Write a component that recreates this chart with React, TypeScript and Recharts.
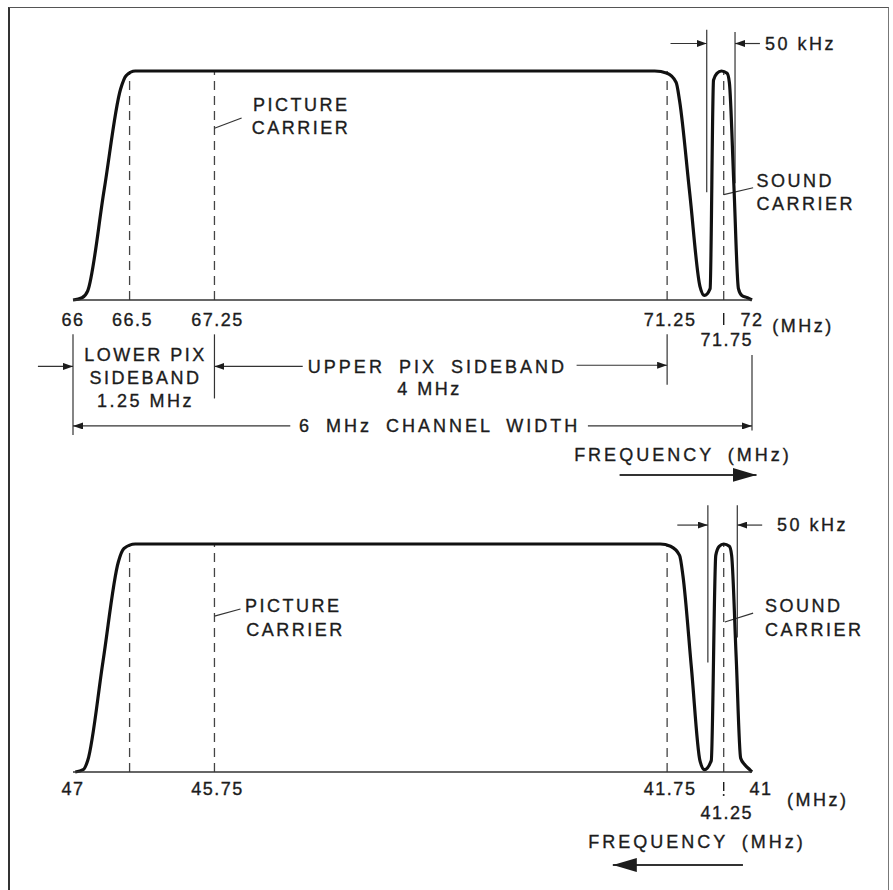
import { LineChart, Line, XAxis, YAxis, ReferenceLine, ReferenceDot } from 'recharts'

// channel 4 RF response (MHz, relative amplitude)
const rfFreq = [66.0, 66.08, 66.13, 66.275, 66.42, 66.47, 66.55, 71.14, 71.25, 71.33, 71.36, 71.45, 71.54, 71.58, 71.63, 71.66, 71.69, 71.73, 71.78, 71.8, 71.84, 71.88, 71.91, 71.96, 72.0]
const rfResp = [0, 0.01, 0.04, 0.48, 0.92, 0.98, 1, 1, 0.99, 0.95, 0.87, 0.465, 0.06, 0.02, 0.05, 0.96, 0.99, 1, 0.99, 0.95, 0.5, 0.05, 0.02, 0.01, 0]
const rfTicks = [66, 66.5, 67.25, 71.25, 71.75, 72]
const rfTickLabels = ['66', '66.5', '67.25', '71.25', '71.75', '72']
const rfMarkers = [66.5, 67.25, 71.25, 71.75]

// same channel after conversion to IF (spectrum inverted)
const ifFreq = [46.98, 46.91, 46.87, 46.735, 46.6, 46.55, 46.45, 41.81, 41.72, 41.64, 41.61, 41.535, 41.46, 41.42, 41.36, 41.32, 41.29, 41.25, 41.2, 41.18, 41.14, 41.1, 41.06, 41.02, 41.0]
const ifResp = [0, 0.01, 0.05, 0.485, 0.92, 0.98, 1, 1, 0.99, 0.95, 0.86, 0.455, 0.05, 0.01, 0.05, 0.95, 0.99, 1, 0.99, 0.95, 0.505, 0.06, 0.03, 0.01, 0]
const ifTicks = [47, 46.5, 45.75, 41.75, 41.25, 41]
const ifTickLabels = ['47', '', '45.75', '41.75', '41.25', '41']
const ifMarkers = [46.5, 45.75, 41.75, 41.25]

// annotation lines [f1, a1, f2, a2, kind]
const rfLines: [number, number, number, number, string][] = [
  [71.6, 1.18, 71.6, 0.47, ''],
  [71.85, 1.17, 71.85, 0.51, ''],
  [71.28, 1.12, 71.6, 1.12, 'arrow'],
  [72.07, 1.12, 71.85, 1.12, 'arrow'],
  [67.25, 0.75, 67.49, 0.795, ''],
  [71.75, 0.46, 72.01, 0.49, ''],
  [66, -0.15, 66, -0.59, ''],
  [67.25, -0.15, 67.25, -0.43, ''],
  [71.25, -0.15, 71.25, -0.37, ''],
  [72, -0.24, 72, -0.57, ''],
  [65.69, -0.29, 66, -0.29, 'arrow'],
  [68.03, -0.29, 67.25, -0.29, 'arrow'],
  [70.45, -0.285, 71.25, -0.285, 'arrow'],
  [67.92, -0.55, 66, -0.55, 'arrow'],
  [70.55, -0.55, 72, -0.55, 'arrow'],
  [70.83, -0.764, 72.04, -0.764, 'big'],
]
const ifLines: [number, number, number, number, string][] = [
  [41.39, 1.17, 41.39, 0.48, ''],
  [41.13, 1.17, 41.13, 0.59, ''],
  [41.66, 1.083, 41.39, 1.083, 'arrow'],
  [40.91, 1.083, 41.13, 1.083, 'arrow'],
  [45.75, 0.684, 45.52, 0.715, ''],
  [41.24, 0.658, 40.99, 0.697, ''],
  [41.08, -0.408, 42.23, -0.408, 'big'],
]

// annotation texts [text, f, a, anchor]
const rfNotes: [string, number, number, string][] = [
  ['PICTURE', 67.59, 0.852, 'start'],
  ['CARRIER', 67.58, 0.751, 'start'],
  ['SOUND', 72.04, 0.52, 'start'],
  ['CARRIER', 72.04, 0.419, 'start'],
  ['50 kHz', 72.115, 1.118, 'start'],
  ['(MHz)', 72.18, -0.114, 'start'],
  ['LOWER PIX', 66.64, -0.24, 'middle'],
  ['SIDEBAND', 66.64, -0.341, 'middle'],
  ['1.25 MHz', 66.64, -0.441, 'middle'],
  ['UPPER PIX SIDEBAND', 69.22, -0.293, 'middle'],
  ['4 MHz', 69.15, -0.389, 'middle'],
  ['6 MHz CHANNEL WIDTH', 69.24, -0.55, 'middle'],
  ['FREQUENCY (MHz)', 71.39, -0.677, 'middle'],
]
const ifNotes: [string, number, number, string][] = [
  ['50 kHz', 40.78, 1.083, 'start'],
  ['SOUND', 40.885, 0.728, 'start'],
  ['CARRIER', 40.885, 0.623, 'start'],
  ['PICTURE', 45.48, 0.728, 'start'],
  ['CARRIER', 45.47, 0.623, 'start'],
  ['(MHz)', 40.69, -0.123, 'start'],
  ['FREQUENCY (MHz)', 41.486, -0.307, 'middle'],
]

const ink = '#1c1c1c'
const font = 'Liberation Sans, Arial, sans-serif'
const textStyle = { fontFamily: font, fontSize: 18, fill: ink, stroke: ink, strokeWidth: 0.35 }

const makeTick = (ticks: number[], labels: string[], row1: number, row2: number, dashed: boolean, low: number) => (p: any) => {
  const v = p.payload.value
  const text = labels[ticks.indexOf(v)]
  if (!text) return <g />
  const isLow = v === low
  const nudge = text === '41' ? 9 : text.length > 3 ? 3 : 0
  return (
    <g>
      {isLow && (
        <line x1={p.x} x2={p.x} y1={p.y + row1 - 7} y2={p.y + row1 + (dashed ? 2 : 5)} stroke={ink} strokeWidth={1.4} />
      )}
      {isLow && dashed && <circle cx={p.x} cy={p.y + row1 + 6} r={1} fill={ink} />}
      <text x={p.x + nudge} y={p.y + (isLow ? row2 : row1)} textAnchor="middle" dominantBaseline="central"
        letterSpacing={1.5} {...textStyle}>{text}</text>
    </g>
  )
}

const arrowDefs = (id: string) => (
  <defs>
    <marker id={`${id}-s`} markerWidth={10} markerHeight={7} refX={10} refY={3.5} orient="auto" markerUnits="userSpaceOnUse">
      <path d="M0,0 L10,3.5 L0,7 z" fill={ink} />
    </marker>
    <marker id={`${id}-b`} markerWidth={24} markerHeight={14} refX={24} refY={7} orient="auto" markerUnits="userSpaceOnUse">
      <path d="M0,0 L24,7 L0,14 z" fill={ink} />
    </marker>
  </defs>
)

const renderLines = (lines: [number, number, number, number, string][], id: string) =>
  lines.map(([f1, a1, f2, a2, kind], i) => (
    <ReferenceLine key={`l${i}`} segment={[{ x: f1, y: a1 }, { x: f2, y: a2 }]} ifOverflow="visible"
      shape={(p: any) => (
        <line x1={p.x1} y1={p.y1} x2={p.x2} y2={p.y2} stroke="#333" strokeWidth={kind === 'big' ? 2 : 1.2}
          markerEnd={kind === 'arrow' ? `url(#${id}-s)` : kind === 'big' ? `url(#${id}-b)` : undefined} />
      )} />
  ))

const renderNotes = (notes: [string, number, number, string][]) =>
  notes.map(([text, f, a, anchor], i) => (
    <ReferenceDot key={`n${i}`} x={f} y={a} r={0} ifOverflow="visible"
      shape={(p: any) => (
        <text x={p.cx} y={p.cy} textAnchor={anchor as any} dominantBaseline="central"
          letterSpacing={text.length > 12 ? 3 : 2.5} wordSpacing={text.length > 12 ? 6 : 0} {...textStyle}>{text}</text>
      )} />
  ))

const rfData = rfFreq.map((f, i) => ({ f, a: rfResp[i] }))
const ifData = ifFreq.map((f, i) => ({ f, a: ifResp[i] }))

export default function App() {
  return (
    <div style={{ position: 'absolute', left: 0, top: 0, width: 893, height: 890, background: '#fff', overflow: 'hidden' }}>
      <div style={{ position: 'absolute', left: 8, top: 7, width: 878, height: 900, borderLeft: '2px solid #333', borderTop: '1.5px solid #555', borderRight: '1.5px solid #777' }} />

      <div style={{ position: 'absolute', left: 0, top: 0 }}>
        <LineChart width={893} height={500} data={rfData} margin={{ top: 71, right: 141, bottom: 170, left: 73 }}>
          {arrowDefs('rf')}
          <XAxis dataKey="f" type="number" domain={[66, 72]} ticks={rfTicks} height={30} tickSize={0} tickMargin={0}
            axisLine={{ stroke: '#333', strokeWidth: 1.5 }} tickLine={false} interval={0}
            tick={makeTick(rfTicks, rfTickLabels, 20, 40, false, 71.75)} />
          <YAxis type="number" domain={[0, 1]} hide />
          {rfMarkers.map(m => (
            <ReferenceLine key={m} x={m} stroke="#444" strokeWidth={1.3} strokeDasharray="9 6" />
          ))}
          {renderLines(rfLines, 'rf')}
          {renderNotes(rfNotes)}
          <Line dataKey="a" type="monotone" stroke="#111" strokeWidth={3.2} dot={false} isAnimationActive={false} />
        </LineChart>
      </div>

      <div style={{ position: 'absolute', left: 0, top: 490 }}>
        <LineChart width={893} height={400} data={ifData} margin={{ top: 54, right: 141, bottom: 88, left: 73 }}>
          {arrowDefs('if')}
          <XAxis dataKey="f" type="number" domain={[41, 47]} reversed ticks={ifTicks} height={30} tickSize={0} tickMargin={0}
            axisLine={{ stroke: '#333', strokeWidth: 1.5 }} tickLine={false} interval={0}
            tick={makeTick(ifTicks, ifTickLabels, 17, 41, true, 41.25)} />
          <YAxis type="number" domain={[0, 1]} hide />
          {ifMarkers.map(m => (
            <ReferenceLine key={m} x={m} stroke="#444" strokeWidth={1.3} strokeDasharray="9 6" />
          ))}
          {renderLines(ifLines, 'if')}
          {renderNotes(ifNotes)}
          <Line dataKey="a" type="monotone" stroke="#111" strokeWidth={3.2} dot={false} isAnimationActive={false} />
        </LineChart>
      </div>
    </div>
  )
}
